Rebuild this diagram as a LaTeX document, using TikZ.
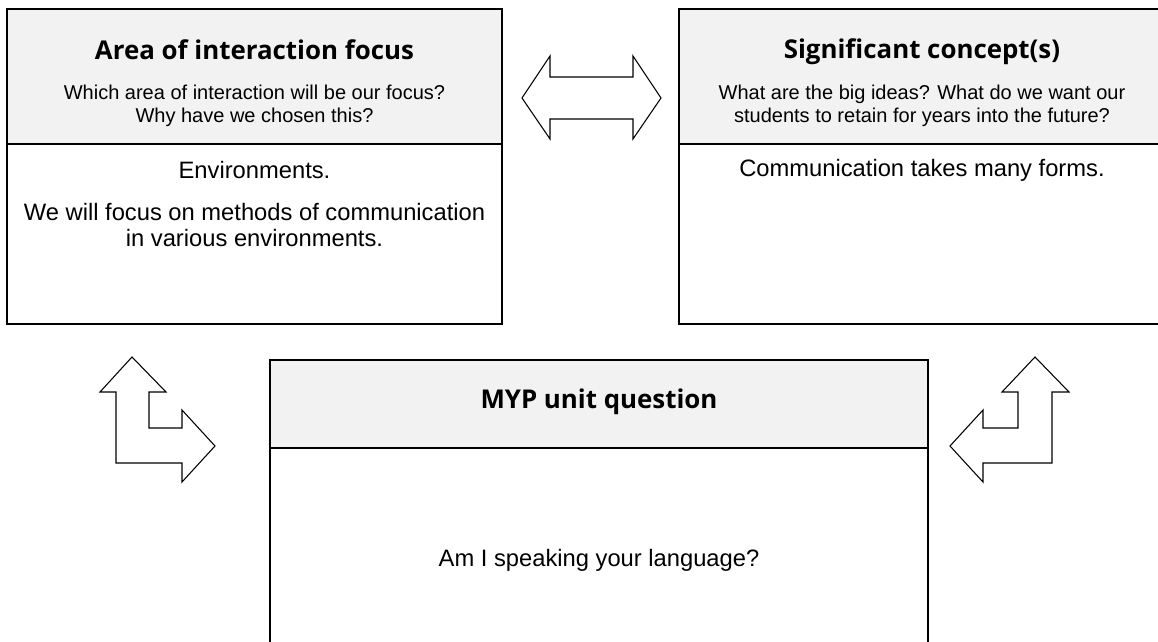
\documentclass[tikz,border=0pt]{standalone}
\usepackage{fontspec}
\setmainfont{Liberation Sans}
\newfontfamily\headfont{Open Sans}
\usetikzlibrary{positioning}
\definecolor{headgrey}{HTML}{F2F2F2}

\begin{document}
\begin{tikzpicture}[
  x=0.75pt, y=-0.75pt,
  header/.style={draw, line width=1.3pt, fill=headgrey, inner sep=0pt, outer sep=0pt},
  panel/.style={draw, line width=1.3pt, fill=white, inner sep=0pt, outer sep=0pt},
  title/.style={font=\headfont\bfseries\fontsize{19.4}{22}\selectfont},
  prompt/.style={align=center, font=\fontsize{15}{16.9}\selectfont},
  answer/.style={align=center, font=\fontsize{17.8}{19.5}\selectfont},
  blockarrow/.style={draw, line width=0.8pt, fill=white, line join=miter}
]
\useasboundingbox[fill=white] (0,0) rectangle (1158,642);

% Area of interaction box
\node[header, minimum width=371.25pt, minimum height=101.25pt] (areahead) at (254.5,76.5) {};
\node[panel, minimum width=371.25pt, minimum height=135pt, below=0pt of areahead] (areabody) {};
\node[title] (areatitle) at (254.5,50) {Area of interaction focus};
\node[prompt] (areaprompt) at (254.5,106) {Which area of interaction will be our focus?\\Why have we chosen this?};
\node[answer] (areaenv) at (254.5,170) {Environments.};
\node[answer] (areafocus) at (254.5,225) {We will focus on methods of communication\\in various environments.};

% Significant concept box
\node[header, minimum width=364.5pt, minimum height=101.25pt] (concepthead) at (922,76.5) {};
\node[panel, minimum width=364.5pt, minimum height=135pt, below=0pt of concepthead] (conceptbody) {};
\node[title] (concepttitle) at (922,52) {Significant concept(s)};
\node[prompt] (conceptprompt) at (922,106) {What are the big ideas? What do we want our\\students to retain for years into the future?};
\node[answer] (conceptforms) at (922,170) {Communication takes many forms.};

% MYP unit question box
\node[header, minimum width=493.5pt, minimum height=66pt] (unithead) at (599,404) {};
\node[panel, minimum width=493.5pt, minimum height=174pt, below=0pt of unithead] (unitbody) {};
\node[title] (unittitle) at (599,402) {MYP unit question};
\node[answer] (unitquestion) at (599,560) {Am I speaking your language?};

% block arrows
\draw[blockarrow] (522,98) -- (550,56) -- (550,77) -- (633,77) -- (633,56) -- (661,98)
  -- (633,139) -- (633,119) -- (550,119) -- (550,139) -- cycle;
\draw[blockarrow] (132,357) -- (166,392) -- (149,392) -- (149,428) -- (182,428) -- (182,410)
  -- (215,446) -- (182,482) -- (182,463) -- (116,463) -- (116,392) -- (100,392) -- cycle;
\draw[blockarrow] (1035,357) -- (1069,392) -- (1052,392) -- (1052,463) -- (983,463) -- (983,482)
  -- (950,446) -- (983,410) -- (983,428) -- (1018,428) -- (1018,392) -- (1002,392) -- cycle;
\end{tikzpicture}
\end{document}
